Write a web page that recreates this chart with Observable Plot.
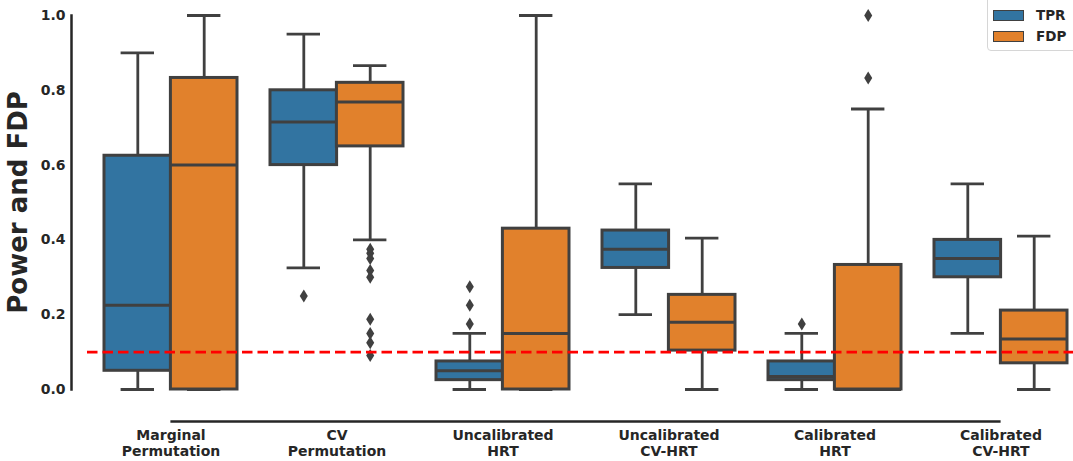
<!DOCTYPE html>
<html>
<head>
<meta charset="utf-8">
<script src="https://cdn.jsdelivr.net/npm/d3@7"></script>
<script src="https://cdn.jsdelivr.net/npm/@observablehq/plot@0.6"></script>
<style>
  html, body { margin: 0; padding: 0; background: #fff; }
  #wrap { position: relative; width: 1073px; height: 461px; overflow: hidden; font-family: "DejaVu Sans", sans-serif; }
  #chart svg { max-width: none !important; }
  #legend { position: absolute; left: 987px; top: -4px; width: 100px; height: 55px; box-sizing: border-box;
    border: 1px solid #d6d6d6; border-radius: 4px; background: rgba(255,255,255,0.9); }
  .item { position: absolute; left: 5px; display: flex; align-items: center; font-weight: bold; font-size: 13.5px; color: #262626; }
  .sw { width: 29px; height: 9px; border: 1px solid #404040; margin-right: 12px; }
</style>
</head>
<body>
<div id="wrap"><div id="chart"></div><div id="legend"></div></div>
<script>
// ---- data ----
const categories = ["Marginal Permutation", "CV Permutation", "Uncalibrated HRT", "Uncalibrated CV-HRT", "Calibrated HRT", "Calibrated CV-HRT"];
const tickLabels = ["Marginal\nPermutation", "CV\nPermutation", "Uncalibrated\nHRT", "Uncalibrated\nCV-HRT", "Calibrated\nHRT", "Calibrated\nCV-HRT"];
const series = ["TPR", "FDP"];
const seriesColors = ["#3274a1", "#e1812c"];

const tprLow  = [0.0,   0.325, 0.0,   0.2,   0.0,   0.15];
const tprQ1   = [0.05,  0.6,   0.025, 0.325, 0.025, 0.3];
const tprMed  = [0.225, 0.715, 0.05,  0.375, 0.035, 0.35];
const tprQ3   = [0.625, 0.8,   0.075, 0.425, 0.075, 0.4];
const tprHigh = [0.9,   0.95,  0.15,  0.55,  0.15,  0.55];
const tprOutliers = [[], [0.25], [0.175, 0.225, 0.275], [], [0.175], []];

const fdpLow  = [0.0,   0.4,   0.0,  0.0,   0.0,   0.0];
const fdpQ1   = [0.0,   0.65,  0.0,  0.104, 0.0,   0.07];
const fdpMed  = [0.6,   0.769, 0.15, 0.18,  0.0,   0.135];
const fdpQ3   = [0.833, 0.82,  0.43, 0.253, 0.333, 0.211];
const fdpHigh = [1.0,   0.866, 1.0,  0.405, 0.75,  0.41];
const fdpOutliers = [[], [0.375, 0.364, 0.35, 0.318, 0.3, 0.188, 0.15, 0.125, 0.091], [], [], [0.833, 1.0], []];

const yTicks = [0, 0.2, 0.4, 0.6, 0.8, 1.0];
const threshold = 0.1;

// ---- build tables ----
const stats = {
  TPR: {low: tprLow, q1: tprQ1, med: tprMed, q3: tprQ3, high: tprHigh, out: tprOutliers},
  FDP: {low: fdpLow, q1: fdpQ1, med: fdpMed, q3: fdpQ3, high: fdpHigh, out: fdpOutliers}
};
function boxRows(s) {
  const st = stats[s];
  return categories.map((c, i) => ({cat: c, low: st.low[i], q1: st.q1[i], med: st.med[i], q3: st.q3[i], high: st.high[i]}));
}
function outlierRows(s) {
  const st = stats[s];
  return categories.flatMap((c, i) => st.out[i].map(v => ({cat: c, v})));
}

// ---- layout ----
const W = 1083, H = 461, mL = 87, mR = 0, mT = 15, mB = 72;
const step = (W - mL - mR) / categories.length;
const bw = step * 0.8, half = bw / 2;
const gray = "#404040";
const lw = 2.8;

const thinDiamond = {
  draw(ctx, size) {
    const r = Math.sqrt(size / Math.PI);
    ctx.moveTo(0, -r);
    ctx.lineTo(r * 0.62, 0);
    ctx.lineTo(0, r);
    ctx.lineTo(-r * 0.62, 0);
    ctx.closePath();
  }
};

const marks = [
  Plot.frame({anchor: "left", stroke: "#262626", strokeWidth: 2.5, dx: -16}),
  Plot.ruleY([0], {x1: () => categories[0], x2: () => categories[categories.length - 1], insetLeft: half, insetRight: half, dy: 32, stroke: "#262626", strokeWidth: 2.5}),
  Plot.axisY({ticks: yTicks, tickSize: 0, tickPadding: 22, tickFormat: d3.format(".1f"), label: null}),
  Plot.axisX({tickSize: 0, tickPadding: 39, tickFormat: d => tickLabels[categories.indexOf(d)], lineHeight: 1.15, label: null}),
  Plot.text(["Power and FDP"], {frameAnchor: "left", textAnchor: "middle", lineAnchor: "middle", rotate: -90, dx: -69, fontSize: 26, fontWeight: "bold", fill: "#262626"})
];

series.forEach((s, k) => {
  const rows = boxRows(s);
  const insL = k ? half : 0, insR = k ? 0 : half;
  const dx = k ? bw / 4 : -bw / 4;
  const capIn = half / 4;
  marks.push(
    Plot.ruleX(rows, {x: "cat", y1: "low", y2: "q1", dx, stroke: gray, strokeWidth: lw}),
    Plot.ruleX(rows, {x: "cat", y1: "q3", y2: "high", dx, stroke: gray, strokeWidth: lw}),
    Plot.tickY(rows, {x: "cat", y: "low", insetLeft: insL + capIn, insetRight: insR + capIn, stroke: gray, strokeWidth: lw}),
    Plot.tickY(rows, {x: "cat", y: "high", insetLeft: insL + capIn, insetRight: insR + capIn, stroke: gray, strokeWidth: lw}),
    Plot.barY(rows, {x: "cat", y1: "q1", y2: "q3", insetLeft: insL, insetRight: insR, fill: seriesColors[k], stroke: gray, strokeWidth: 3}),
    Plot.tickY(rows, {x: "cat", y: "med", insetLeft: insL, insetRight: insR, stroke: gray, strokeWidth: 3}),
    Plot.dot(outlierRows(s), {x: "cat", y: "v", dx, r: 6.5, symbol: thinDiamond, fill: gray, stroke: "none"})
  );
});

marks.push(Plot.ruleY([threshold], {stroke: "#ff0000", strokeWidth: 2.8, strokeDasharray: "10.5,5"}));

const chart = Plot.plot({
  width: W, height: H,
  marginLeft: mL, marginRight: mR, marginTop: mT, marginBottom: mB,
  x: {domain: categories, paddingInner: 0.2, paddingOuter: 0.1, axis: null},
  y: {domain: [0, 1], axis: null},
  style: {fontFamily: "DejaVu Sans, sans-serif", fontSize: "14px", fontWeight: "bold", color: "#262626", background: "white", overflow: "visible", maxWidth: "none"},
  marks
});
document.getElementById("chart").appendChild(chart);

// legend
const leg = document.getElementById("legend");
series.forEach((s, k) => {
  const it = document.createElement("div");
  it.className = "item";
  it.style.top = (k === 0 ? 10 : 31) + "px";
  it.innerHTML = `<span class="sw" style="background:${seriesColors[k]}"></span><span>${s}</span>`;
  leg.appendChild(it);
});
</script>
</body>
</html>
